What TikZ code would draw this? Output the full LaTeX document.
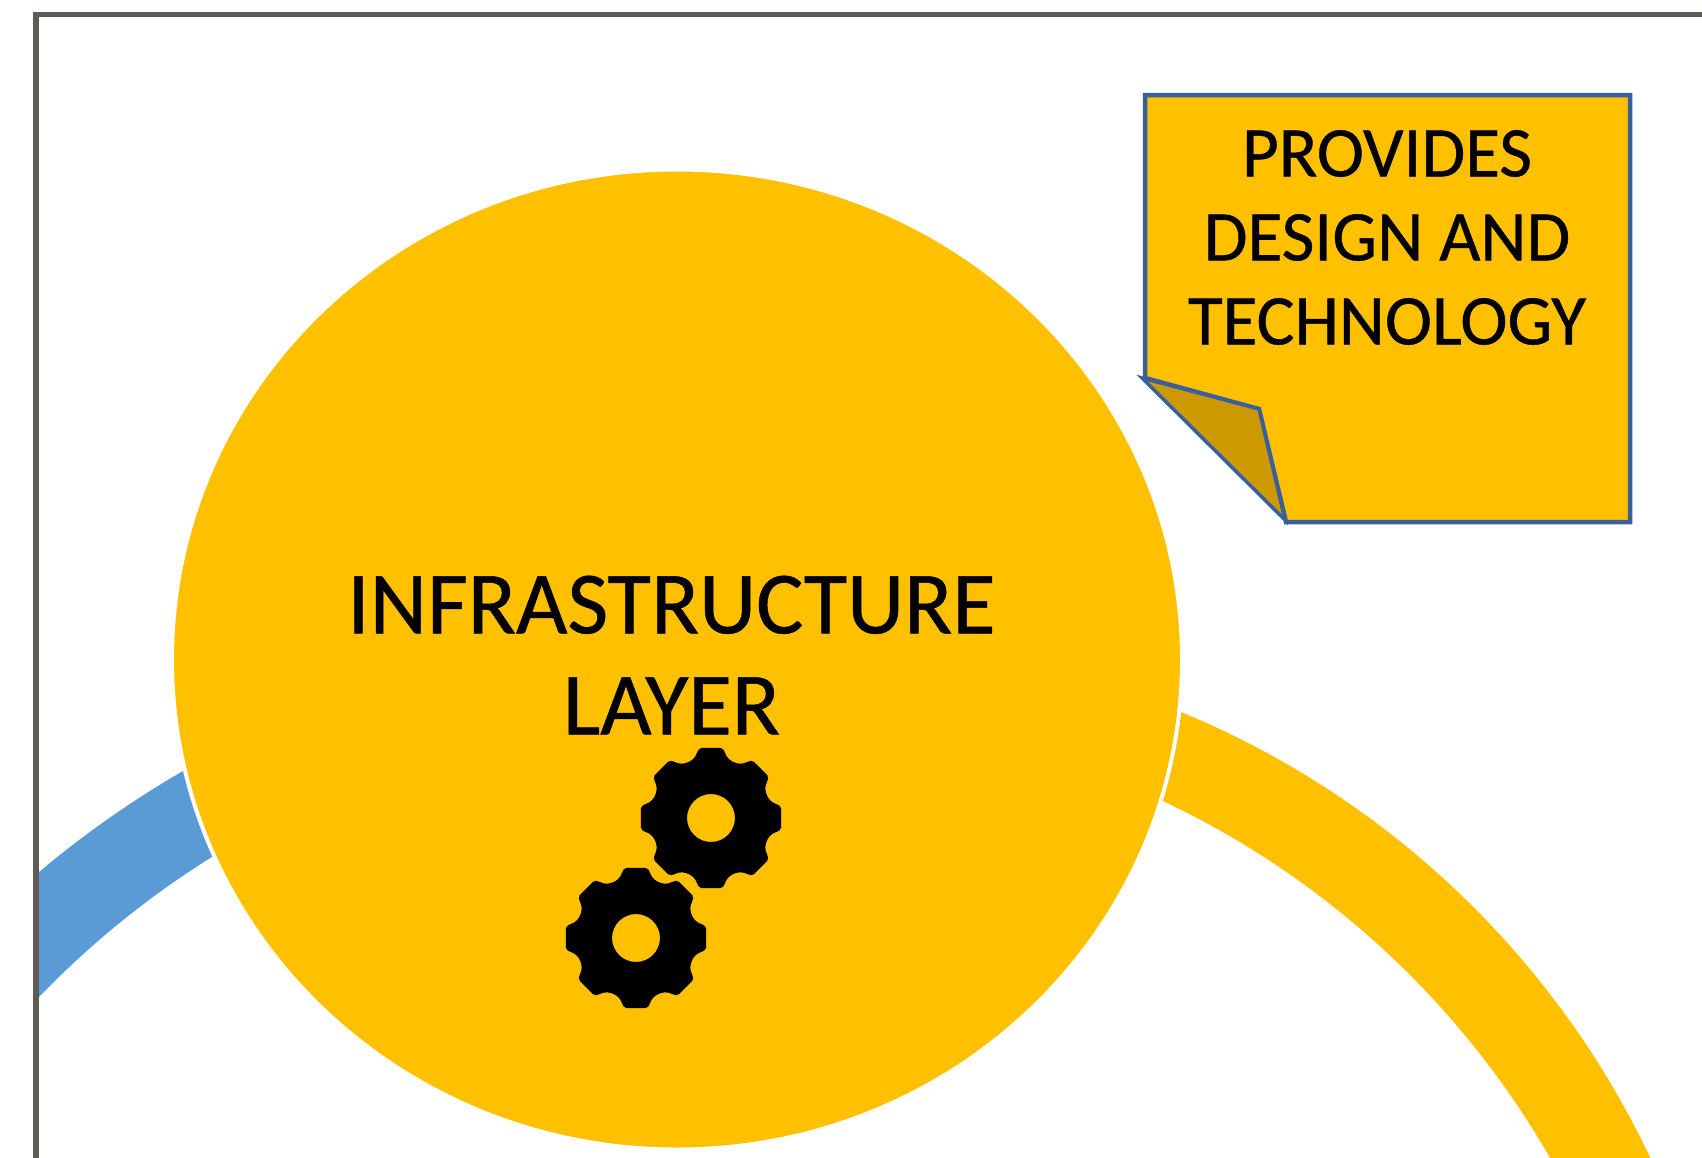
\documentclass[tikz,border=0pt]{standalone}
\usetikzlibrary{shapes.geometric}
\usepackage{fontspec}
\setmainfont{Carlito}
\newfontfamily\labelface{Carlito}[FakeBold=0.6]
\definecolor{amber}{HTML}{FFC000}
\definecolor{amberdark}{HTML}{CC9A00}
\definecolor{skyblue}{HTML}{5B9BD5}
\definecolor{framegray}{HTML}{5E5A54}
\definecolor{noteblue}{HTML}{3A5F9E}
\newcommand{\gearpath}[2]{%
  ([shift={(#1,#2)}]-9.5:71)
  \foreach \k in {0,45,...,315}{
    -- ([shift={(#1,#2)}]\k-9.5:71)
    -- ([shift={(#1,#2)}]\k+9.5:71)
    -- ([shift={(#1,#2)}]\k+15.5:62)
    -- ([shift={(#1,#2)}]\k+22.5:60)
    -- ([shift={(#1,#2)}]\k+29.5:62)
  } -- cycle
  (#1,#2) circle[radius=24]}
\tikzset{
  x=0.5pt,y=0.5pt,
  bigcircle/.style={ellipse,fill=amber,draw=white,line width=2pt,inner sep=0pt},
  gearshape/.style={fill=black,rounded corners=1pt,even odd rule},
  notebody/.style={fill=amber,draw=noteblue,line width=2.25pt,line join=miter},
  notefold/.style={fill=amberdark,draw=noteblue,line width=1.75pt,line join=miter},
  frameline/.style={draw=framegray,line width=2.75pt},
  mainlabel/.style={inner sep=0pt,align=center,text=black,font=\labelface\fontsize{44.4}{50.5}\selectfont},
  notelabel/.style={inner sep=0pt,align=center,text=black,font=\labelface\fontsize{35.6}{42}\selectfont},
}
\begin{document}
\begin{tikzpicture}
\useasboundingbox (0,0) rectangle (1702,-1157);
\begin{scope}
\clip (0,0) rectangle (1702,-1157);
% blue arc
\fill[skyblue] (39,-872) .. controls (86.1,-832.4) and (136.5,-797.4) .. (190,-767)
  -- (220,-852) .. controls (153.4,-892.5) and (93.1,-940.9) .. (39,-997) -- cycle;
% amber arc
\fill[amber]
  ([shift={(838,-1543)}]70:899) arc[start angle=70,end angle=24,radius=899]
  -- ([shift={(788,-1596)}]27:879) arc[start angle=27,end angle=67,radius=879] -- cycle;
% circle
\node[bigcircle,minimum width=505pt,minimum height=490pt] (layer) at (677,-659.5) {};
% gears
\fill[gearshape] \gearpath{711}{-818};
\fill[gearshape] \gearpath{636}{-938};
% frame
\draw[frameline] (36,-1170) -- (36,-14.5) -- (1720,-14.5);
\end{scope}
\node[mainlabel] (layertext) at (671.5,-655) {INFRASTRUCTURE\\LAYER};
% note
\path[notebody] (1145,-95) -- (1630,-95) -- (1630,-522) -- (1286,-522) -- (1259,-409) -- (1145,-378) -- cycle;
\path[notefold] (1142,-378) -- (1259,-409) -- (1285,-520) -- cycle;
\node[notelabel] (notetext) at (1387,-237.5) {PROVIDES\\DESIGN AND\\TECHNOLOGY};
\end{tikzpicture}
\end{document}
